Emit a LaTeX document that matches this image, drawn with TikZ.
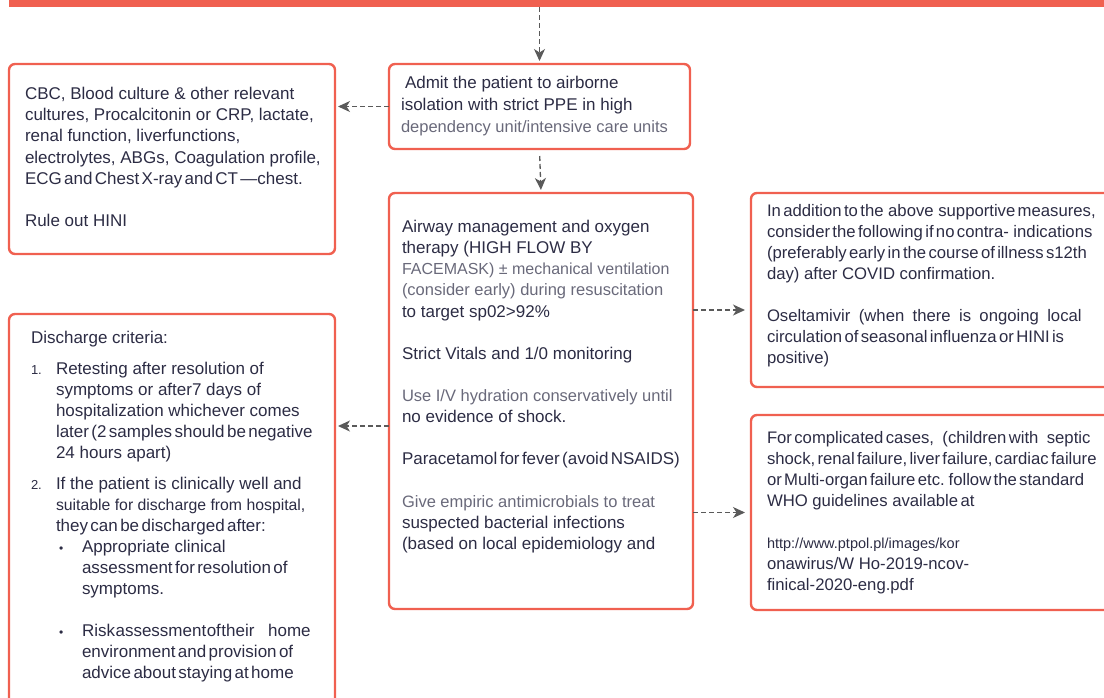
\documentclass[tikz,border=0pt]{standalone}
\usepackage{fontspec}
\setmainfont{Liberation Sans}
\usetikzlibrary{arrows.meta}
\definecolor{boxred}{RGB}{240,96,80}
\definecolor{ink}{RGB}{44,44,68}
\definecolor{inklight}{RGB}{105,105,122}
\definecolor{arrowgray}{RGB}{90,90,90}
\newcommand\tg[1]{{\spaceskip=0.14em plus 0.02em\relax #1}}
\newcommand\tgg[1]{{\spaceskip=0.03em plus 0.01em\relax #1}}
\newcommand\wsp[1]{{\spaceskip=0.5em\relax #1}}
\newcommand\lt[1]{{\color{inklight}#1}}
\begin{document}
\begin{tikzpicture}[x=1pt,y=-1pt,
  box/.style={draw=boxred, line width=2.4pt, rounded corners=6pt, inner sep=0pt, outer sep=0pt, anchor=north west},
  txt/.style={anchor=base west, inner sep=0pt, outer sep=0pt, text=ink},
  conn/.style={draw=arrowgray, line width=1.3pt, dash pattern=on 5pt off 3pt, -{Stealth[length=12pt,width=11pt,inset=3.5pt]}, shorten >=3pt}]
\useasboundingbox (0,0) rectangle (1104,697);
\clip (0,0) rectangle (1104,697);
% boxes
\node[box, fill=boxred, draw=none, rounded corners=0pt, minimum width=1110pt, minimum height=11pt] (bar) at (9,-4) {};
\node[box, minimum width=326pt, minimum height=190pt] (tests) at (9,64) {};
\node[box, minimum width=301pt, minimum height=85pt] (admit) at (389,64) {};
\node[box, minimum width=304pt, minimum height=416pt] (care) at (389,193) {};
\node[box, minimum width=380pt, minimum height=194pt] (antiv) at (751,193) {};
\node[box, minimum width=380pt, minimum height=195pt] (compl) at (751,415) {};
\node[box, minimum width=326pt, minimum height=420pt] (disch) at (9,314) {};
% connectors
\draw[conn] (bar.south -| admit.north) -- (admit.north);
\draw[conn] (admit.west) -- (admit.west -| tests.east);
\draw[conn, shorten <=7pt] (admit.south) -- (care.north);
\draw[conn, shorten >=6pt] ([yshift=91pt]care.east) -- ([yshift=91pt]care.east -| antiv.west);
\draw[conn, shorten >=6pt] (compl.west -| care.east) -- (compl.west);
\draw[conn] ([yshift=-25pt]care.west) -- ([yshift=-25pt]care.west -| disch.east);
% texts
\node[txt, font=\fontsize{17}{21.2}\selectfont] (testsT) at (25,99.5) {\parbox[t]{320pt}{CBC, Blood culture \& other relevant\\
cultures, Procalcitonin or CRP, lactate,\\
renal function, liverfunctions,\\
electrolytes, ABGs, Coagulation profile,\\
\tg{ECG and Chest X-ray and CT —chest.}\\[21.2pt]
Rule out HINI}};
\node[txt, font=\fontsize{17}{21.8}\selectfont] (admitT) at (401,88.5) {\parbox[t]{290pt}{\hspace*{4pt}Admit the patient to airborne\\
isolation with strict PPE in high\\
{\fontsize{16.5}{21.8}\selectfont\lt{dependency unit/intensive care units}}}};
\node[txt, font=\fontsize{17}{21.13}\selectfont] (careT) at (402,232.5) {\parbox[t]{290pt}{Airway management and oxygen\\
therapy (HIGH FLOW BY\\
{\fontsize{16}{21.13}\selectfont\lt{FACEMASK) ± mechanical ventilation}}\\
{\fontsize{16.5}{21.13}\selectfont\lt{(consider early) during resuscitation}}\\
to target sp02>92\%\\[21.13pt]
Strict Vitals and 1/0 monitoring\\[21.13pt]
{\fontsize{16.5}{21.13}\selectfont\lt{Use I/V hydration conservatively until}}\\
no evidence of shock.\\[21.13pt]
\tg{Paracetamol for fever (avoid NSAIDS)}\\[21.13pt]
{\fontsize{16.5}{21.13}\selectfont\lt{Give empiric antimicrobials to treat}}\\
suspected bacterial infections\\
(based on local epidemiology and}};
\node[txt, font=\fontsize{16.7}{21}\selectfont] (antivT) at (767,216.5) {\parbox[t]{340pt}{\tg{In addition to the} above \tg{supportive measures,}\\
\tg{consider the following if no contra-} indications\\
\tg{(preferably early in the course of illness s12th}\\
day) after COVID confirmation.\\[21pt]
\wsp{Oseltamivir (when there is ongoing local}\\
\tg{circulation of seasonal influenza or HINI is}\\
positive)}};
\node[txt, font=\fontsize{16.7}{21}\selectfont] (complT) at (767,443.5) {\parbox[t]{340pt}{\tg{For complicated cases,}\hspace{0.5em}\tg{(children with}\hspace{0.5em}septic\\
\tg{shock, renal failure, liver failure, cardiac failure}\\
\tg{or Multi-organ failure etc. follow the standard}\\
WHO guidelines \tg{available at}\\[21pt]
{\fontsize{14.5}{21}\selectfont http://www.ptpol.pl/images/kor}\\
onawirus/W Ho-2019-ncov-\\
finical-2020-eng.pdf}};
\node[txt, font=\fontsize{17}{21}\selectfont] (dischT) at (31,343.5) {\parbox[t]{310pt}{Discharge criteria:\\[10pt]
\makebox[25pt][l]{\fontsize{13}{21}\selectfont 1.}Retesting after resolution of\\
\hspace*{25pt}symptoms or after7 days of\\
\hspace*{25pt}hospitalization whichever comes\\
\hspace*{25pt}\tg{later (2 samples should be negative}\\
\hspace*{25pt}24 hours apart)\\[10pt]
\makebox[25pt][l]{\fontsize{13}{21}\selectfont 2.}If the patient is clinically well and\\
\hspace*{25pt}{\fontsize{15.8}{21}\selectfont suitable for discharge from hospital,}\\
\hspace*{25pt}\tg{they can be discharged after:}\\
\hspace*{28pt}\makebox[23pt][l]{\fontsize{12}{21}\selectfont •}Appropriate clinical\\
\hspace*{51pt}\tg{assessment for resolution of}\\
\hspace*{51pt}symptoms.\\[21pt]
\hspace*{28pt}\makebox[23pt][l]{\fontsize{12}{21}\selectfont •}\tgg{Risk assessment of their}\hspace{0.8em}home\\
\hspace*{51pt}\tg{environment and provision of}\\
\hspace*{51pt}\tg{advice about staying at home}}};
\end{tikzpicture}
\end{document}
